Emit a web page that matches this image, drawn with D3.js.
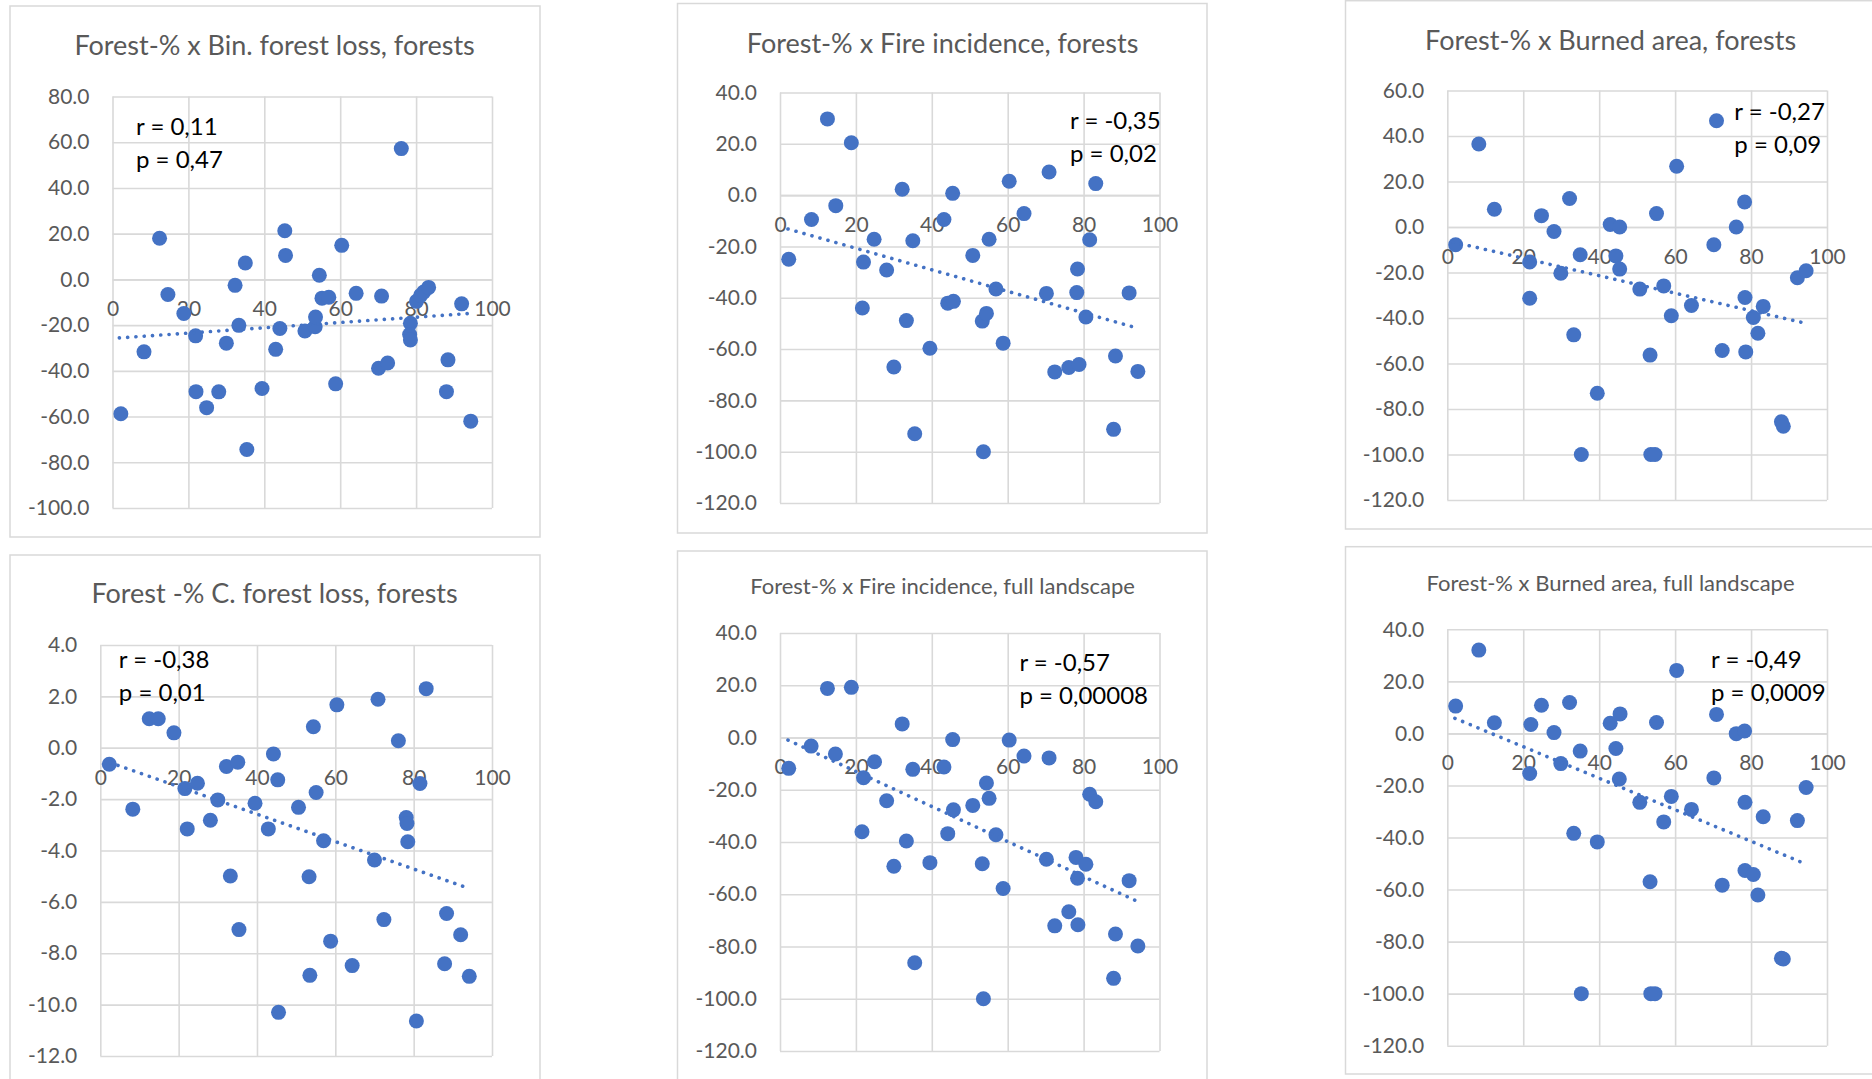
<!DOCTYPE html>
<html>
<head>
<meta charset="utf-8">
<script src="https://cdn.jsdelivr.net/npm/d3@7"></script>
<style>
  body { margin: 0; background: #fff; }
  svg { display: block; font-family: Lato, "Open Sans", sans-serif; }
</style>
</head>
<body>
<div id="chart"></div>
<script>
// values: [forest-%, change]
const binLossForests = [
  [2.2,-58.8],[8.3,-31.7],[12.4,18.0],[14.6,-6.6],[18.8,-14.9],[21.9,-24.7],[22.0,-49.1],
  [24.8,-56.1],[28.0,-49.2],[30.0,-27.9],[32.3,-2.6],[33.3,-20.1],[35.0,7.2],[35.4,-74.4],
  [39.4,-47.7],[43.0,-30.6],[44.1,-21.5],[45.4,21.3],[45.6,10.5],[50.7,-22.6],[53.4,-20.7],
  [53.5,-16.5],[54.5,1.8],[55.2,-8.2],[57.0,-7.8],[58.8,-45.7],[60.4,14.9],[64.2,-6.1],
  [70.1,-38.9],[70.9,-7.3],[72.5,-36.6],[76.1,57.2],[78.5,-19.2],[78.3,-24.1],[78.5,-26.5],
  [80.1,-9.6],[81.2,-7.0],[82.0,-5.5],[83.3,-3.5],[88.4,-35.2],[88.0,-49.1],[92.0,-10.7],[94.4,-62.0]
];
const fireIncForests = [
  [2.3,-25.0],[8.3,-9.5],[12.5,29.7],[14.7,-4.1],[18.8,20.4],[22.0,-26.1],[21.7,-44.0],
  [24.8,-17.2],[28.1,-29.2],[30.0,-67.0],[32.2,2.3],[33.3,-48.9],[35.0,-17.8],[35.5,-93.0],
  [39.5,-59.7],[43.2,-9.5],[44.2,-42.1],[45.5,0.7],[45.7,-41.4],[50.8,-23.5],[53.3,-49.1],
  [53.6,-100],[54.4,-46.1],[55.1,-17.2],[56.9,-36.6],[58.8,-57.7],[60.4,5.4],[64.3,-7.2],
  [70.2,-38.3],[70.9,9.0],[72.4,-68.9],[76.1,-67.2],[78.4,-28.8],[78.2,-38.0],[78.8,-66.0],
  [80.6,-47.5],[81.6,-17.4],[83.2,4.5],[87.9,-91.3],[88.4,-62.7],[92.0,-38.1],[94.3,-68.7]
];
const burnedForests = [
  [2.2,-7.8],[8.3,36.5],[12.4,7.8],[21.7,-15.4],[21.7,-31.3],[24.8,5.0],[28.1,-2.0],
  [29.9,-20.3],[32.2,12.5],[33.3,-47.4],[35.0,-12.2],[35.3,-100],[39.5,-73.1],[42.9,1.1],
  [44.4,-12.7],[45.4,0.0],[45.4,-18.5],[50.7,-27.3],[53.4,-56.3],[53.6,-100],[54.7,-100],
  [55.1,5.9],[57.0,-25.9],[59.0,-39.0],[60.4,26.7],[64.3,-34.5],[70.2,-7.8],[70.9,46.7],
  [72.4,-54.3],[76.1,0.0],[78.3,11.0],[78.4,-31.0],[78.6,-54.9],[80.6,-39.8],[81.8,-46.7],
  [83.2,-34.9],[88.0,-85.6],[88.5,-87.6],[92.2,-22.3],[94.5,-19.2]
];
const cLossForests = [
  [2.3,-0.64],[8.3,-2.39],[12.5,1.13],[14.8,1.13],[18.8,0.58],[21.6,-1.59],[22.2,-3.16],
  [24.8,-1.38],[28.1,-2.82],[30.0,-2.03],[32.2,-0.73],[33.2,-4.99],[35.1,-0.56],[35.4,-7.08],
  [39.5,-2.16],[42.9,-3.16],[44.2,-0.24],[45.3,-1.25],[45.5,-10.30],[50.6,-2.32],[53.3,-5.02],
  [53.5,-8.86],[54.4,0.82],[55.1,-1.74],[57.0,-3.62],[58.8,-7.53],[60.4,1.67],[64.3,-8.48],
  [70.0,-4.37],[70.9,1.89],[72.4,-6.69],[76.1,0.27],[78.1,-2.72],[78.3,-2.95],[78.5,-3.66],
  [80.7,-10.64],[81.6,-1.39],[83.2,2.30],[87.9,-8.41],[88.4,-6.45],[92.0,-7.28],[94.2,-8.90]
];
const fireIncLandscape = [
  [2.3,-11.8],[8.2,-3.3],[12.5,18.8],[14.6,-6.3],[18.8,19.2],[22.0,-15.4],[21.6,-36.1],
  [24.9,-9.3],[28.1,-24.2],[30.0,-49.3],[32.2,5.2],[33.3,-39.6],[35.0,-12.2],[35.5,-86.2],
  [39.5,-47.9],[43.2,-11.3],[44.2,-36.8],[45.5,-0.8],[45.7,-27.7],[50.8,-26.0],[53.3,-48.3],
  [53.6,-100],[54.4,-17.4],[55.1,-23.3],[56.9,-37.2],[58.8,-57.8],[60.4,-1.0],[64.3,-7.1],
  [70.2,-46.6],[70.9,-7.8],[72.4,-72.1],[76.1,-66.7],[78.0,-45.9],[78.4,-53.9],[78.5,-71.7],
  [80.6,-48.5],[81.6,-21.7],[83.2,-24.6],[87.9,-92.2],[88.4,-75.2],[92.0,-54.8],[94.3,-79.8]
];
const burnedLandscape = [
  [2.2,10.5],[8.3,32.0],[12.4,4.1],[22.0,3.4],[21.7,-15.4],[24.8,10.8],[28.1,0.3],
  [29.9,-11.6],[32.2,11.9],[33.3,-38.4],[35.0,-6.8],[35.3,-100],[39.5,-41.7],[42.9,3.9],
  [44.4,-5.8],[45.5,7.5],[45.3,-17.5],[50.7,-26.5],[53.4,-57.0],[53.6,-100],[54.7,-100],
  [55.1,4.2],[57.0,-34.0],[59.0,-24.2],[60.4,24.2],[64.3,-29.2],[70.2,-17.1],[70.9,7.3],
  [72.4,-58.3],[76.1,-0.1],[78.3,0.9],[78.4,-26.5],[78.4,-52.7],[80.6,-54.2],[81.8,-62.1],
  [83.2,-32.0],[88.0,-86.4],[88.5,-86.7],[92.2,-33.5],[94.5,-20.8]
];

// trend line end points
const trendBinLoss = [[1.8,-25.6],[94.1,-14.9]];
const trendFireForests = [[2.1,-13.2],[92.9,-51.3]];
const trendBurnedForests = [[1.5,-6.6],[93.8,-42.1]];
const trendCLoss = [[2.5,-0.58],[94.2,-5.48]];
const trendFireLandscape = [[2.1,-1.0],[93.8,-62.5]];
const trendBurnedLandscape = [[2.0,5.8],[93.1,-49.4]];

const titles = [
  "Forest-% x Bin. forest loss, forests",
  "Forest-% x Fire incidence, forests",
  "Forest-% x Burned area, forests",
  "Forest -% C. forest loss, forests",
  "Forest-% x Fire incidence, full landscape",
  "Forest-% x Burned area, full landscape"
];
const rLabels = ["r = 0,11", "r = -0,35", "r = -0,27", "r = -0,38", "r = -0,57", "r = -0,49"];
const pLabels = ["p = 0,47", "p = 0,02", "p = 0,09", "p = 0,01", "p = 0,00008", "p = 0,0009"];

const xTicks = [0, 20, 40, 60, 80, 100];
const yTicks120 = [40, 20, 0, -20, -40, -60, -80, -100, -120];
const yTicksBin = [80, 60, 40, 20, 0, -20, -40, -60, -80, -100];
const yTicksBurned = [60, 40, 20, 0, -20, -40, -60, -80, -100, -120];
const yTicksC = [4, 2, 0, -2, -4, -6, -8, -10, -12];

// panel boxes in page pixels
const panels = [
  {frame:[10,6,540,537], px:[112.5,492], py:[508,96.5], yt:yTicksBin, pts:binLossForests, trend:trendBinLoss,
   title:[274.6,55,27], note:[136,134.5]},
  {frame:[677.5,3.5,1207,533], px:[780,1159.5], py:[503,92.5], yt:yTicks120, pts:fireIncForests, trend:trendFireForests,
   title:[942.6,52.7,27], note:[1070,129]},
  {frame:[1345.5,0.7,1885,529], px:[1447.3,1827], py:[500,90.5], yt:yTicksBurned, pts:burnedForests, trend:trendBurnedForests,
   title:[1610.6,50.3,27], note:[1734.3,120]},
  {frame:[10,555,540,1086], px:[100.3,492], py:[1056,645], yt:yTicksC, pts:cLossForests, trend:trendCLoss,
   title:[274.6,603,27], note:[118.8,668]},
  {frame:[677.5,551,1207,1083], px:[780,1159.5], py:[1051,633], yt:yTicks120, pts:fireIncLandscape, trend:trendFireLandscape,
   title:[942.6,594,22], note:[1019.4,670.7]},
  {frame:[1345.5,546.7,1885,1074], px:[1447.3,1827], py:[1045.7,629.3], yt:yTicks120, pts:burnedLandscape, trend:trendBurnedLandscape,
   title:[1610.6,590.5,22], note:[1711,667.6]}
];

let svg = d3.select("#chart")
  .append("svg")
    .attr("width", 1872)
    .attr("height", 1079);

svg.append("rect").attr("width", 1872).attr("height", 1079).attr("fill", "#fff");

panels.forEach((p, i) => drawPanel(svg, p, i));

function drawPanel(svg, p, i){
  let g = svg.append("g");

  g.append("rect")
    .attr("x", p.frame[0]).attr("y", p.frame[1])
    .attr("width", p.frame[2] - p.frame[0]).attr("height", p.frame[3] - p.frame[1])
    .attr("fill", "#fff")
    .attr("stroke", "#D9D9D9")
    .attr("stroke-width", 1.5);

  let yDomain = d3.extent(p.yt);
  let x = d3.scaleLinear().domain([0, 100]).range(p.px);
  let y = d3.scaleLinear().domain(yDomain).range(p.py);

  // vertical grid
  g.append("g")
    .attr("transform", "translate(0," + p.py[0] + ")")
    .call(d3.axisBottom(x).tickValues(xTicks).tickSize(-(p.py[0] - p.py[1])).tickFormat(""))
    .call(a => a.select(".domain").remove())
    .selectAll("line").attr("stroke", "#D9D9D9").attr("stroke-width", 1.6);

  // horizontal grid + y labels
  g.append("g")
    .attr("transform", "translate(" + p.px[0] + ",0)")
    .call(d3.axisLeft(y).tickValues(p.yt).tickSize(-(p.px[1] - p.px[0])).tickPadding(23)
      .tickFormat(d => d.toFixed(1)))
    .call(a => a.select(".domain").remove())
    .call(a => a.selectAll("line").attr("stroke", "#D9D9D9").attr("stroke-width", 1.6))
    .call(a => a.selectAll("text").attr("fill", "#595959").style("font-size", "21px")
      .style("font-family", "Lato, 'Open Sans', sans-serif"));

  // x labels sit under the zero line
  g.append("g")
    .attr("transform", "translate(0," + y(0) + ")")
    .call(d3.axisBottom(x).tickValues(xTicks).tickSize(0).tickPadding(22))
    .call(a => a.select(".domain").attr("stroke", "#D9D9D9").attr("stroke-width", 1.6))
    .call(a => a.selectAll("text").attr("fill", "#595959").style("font-size", "21px")
      .style("font-family", "Lato, 'Open Sans', sans-serif"));

  // points
  g.selectAll(".dot")
    .data(p.pts)
    .enter()
    .append("circle")
      .attr("class", "dot")
      .attr("cx", d => x(d[0]))
      .attr("cy", d => y(d[1]))
      .attr("r", 7.5)
      .attr("fill", "#4472C4");

  // dotted trend line
  g.append("line")
    .attr("x1", x(p.trend[0][0])).attr("y1", y(p.trend[0][1]))
    .attr("x2", x(p.trend[1][0])).attr("y2", y(p.trend[1][1]))
    .attr("stroke", "#4472C4")
    .attr("stroke-width", 3.6)
    .attr("stroke-linecap", "round")
    .attr("stroke-dasharray", "0.1 8.2");

  g.append("text")
    .attr("x", p.title[0]).attr("y", p.title[1])
    .attr("text-anchor", "middle")
    .attr("fill", "#595959")
    .style("font-size", p.title[2] + "px")
    .text(titles[i]);

  g.append("text")
    .attr("x", p.note[0]).attr("y", p.note[1])
    .attr("fill", "#000")
    .style("font-size", "24px")
    .text(rLabels[i]);

  g.append("text")
    .attr("x", p.note[0]).attr("y", p.note[1] + 33)
    .attr("fill", "#000")
    .style("font-size", "24px")
    .text(pLabels[i]);
}
</script>
</body>
</html>
